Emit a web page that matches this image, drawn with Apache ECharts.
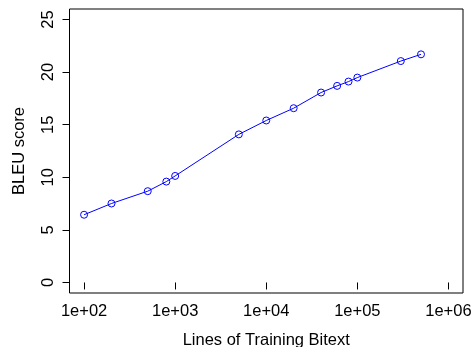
<!DOCTYPE html>
<html><head><meta charset="utf-8">
<script src="https://cdn.jsdelivr.net/npm/echarts@6/dist/echarts.min.js"></script>
<style>html,body{margin:0;padding:0;background:#fff}#c{width:474px;height:347px}</style>
</head><body><div id="c"></div>
<script>
var trainingLines = [100, 200, 500, 800, 1000, 5000, 10000, 20000, 40000, 60000, 80000, 100000, 300000, 500000];
var bleuScores = [6.44, 7.51, 8.68, 9.59, 10.13, 14.08, 15.4, 16.57, 18.06, 18.69, 19.1, 19.48, 21.05, 21.69];
var xTicks = [100, 1000, 10000, 100000, 1000000];
var xTickLabels = ['1e+02', '1e+03', '1e+04', '1e+05', '1e+06'];
var yTicks = [0, 5, 10, 15, 20, 25];

var font = 'Liberation Sans, Arial, sans-serif';
var fs = 16.5;
var chart = echarts.init(document.getElementById('c'));
chart.setOption({
  animation: false,
  grid: {left: 69.5, right: 11, top: 9, bottom: 54, containLabel: false, outerBoundsMode: 'none',
    show: true, borderColor: '#000', borderWidth: 1, backgroundColor: 'transparent'},
  xAxis: {
    type: 'log', logBase: 10,
    min: Math.pow(10, 1.84), max: Math.pow(10, 6.16),
    name: 'Lines of Training Bitext', nameLocation: 'middle', nameGap: 39,
    nameTextStyle: {fontFamily: font, fontSize: fs, color: '#000'},
    axisLine: {show: false},
    axisTick: {show: true, inside: false, length: 7, lineStyle: {color: '#000', width: 1}, customValues: xTicks},
    axisLabel: {fontFamily: font, fontSize: fs, color: '#000', margin: 10, customValues: xTicks,
      formatter: function (v) { var i = xTicks.indexOf(Math.round(v)); return i >= 0 ? xTickLabels[i] : ''; }},
    splitLine: {show: false}
  },
  yAxis: {
    type: 'value', min: -1, max: 26,
    name: 'BLEU score', nameLocation: 'middle', nameGap: 42, nameRotate: 90,
    nameTextStyle: {fontFamily: font, fontSize: fs, color: '#000'},
    axisLine: {show: false},
    axisTick: {show: true, length: 7, lineStyle: {color: '#000', width: 1}, customValues: yTicks},
    axisLabel: {fontFamily: font, fontSize: fs, color: '#000', rotate: 90, margin: 13, customValues: yTicks},
    splitLine: {show: false}
  },
  series: [{
    type: 'line',
    data: trainingLines.map(function (x, i) { return [x, bleuScores[i]]; }),
    symbol: 'circle', symbolSize: 7,
    itemStyle: {color: 'rgba(255,255,255,0)', borderColor: '#0000ff', borderWidth: 1},
    lineStyle: {color: '#0000ff', width: 1}
  }]
});
</script></body></html>
